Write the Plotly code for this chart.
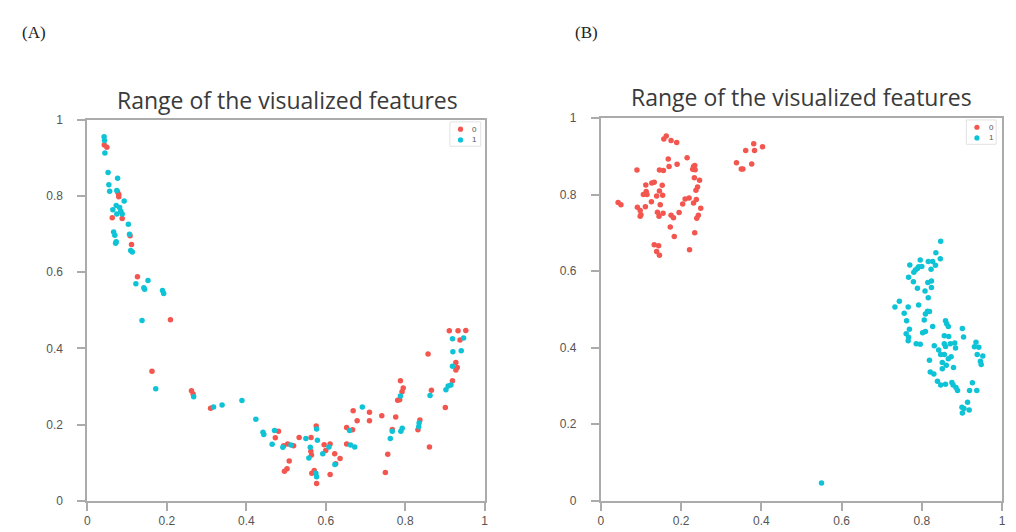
import plotly.graph_objects as go

# ---------------- data ----------------
# Panel A, class 0 (red)
a0_x = [0.0425, 0.049, 0.076, 0.079, 0.079, 0.0625, 0.0875, 0.1075, 0.111, 0.126, 0.209,
        0.1625, 0.262, 0.266, 0.31,
        0.481, 0.473, 0.494, 0.504, 0.519, 0.508, 0.5025, 0.496, 0.533, 0.563, 0.5625, 0.564,
        0.565, 0.571, 0.576, 0.577, 0.596, 0.6, 0.611, 0.611, 0.6225, 0.625, 0.636, 0.6525,
        0.6525, 0.669, 0.6675, 0.679, 0.71, 0.71, 0.741, 0.776, 0.75, 0.756, 0.7675, 0.781,
        0.786, 0.792, 0.795, 0.788, 0.837, 0.832, 0.8575, 0.866, 0.861, 0.901, 0.919, 0.911,
        0.933, 0.9525, 0.938, 0.9275, 0.931, 0.9275]
a0_y = [0.934, 0.928, 0.811, 0.804, 0.798, 0.743, 0.741, 0.696, 0.673, 0.588, 0.475,
        0.340, 0.289, 0.280, 0.243,
        0.182, 0.165, 0.144, 0.149, 0.144, 0.104, 0.084, 0.077, 0.166, 0.166, 0.130, 0.120,
        0.072, 0.079, 0.196, 0.045, 0.147, 0.132, 0.149, 0.069, 0.123, 0.097, 0.111, 0.192,
        0.149, 0.236, 0.186, 0.210, 0.232, 0.210, 0.223, 0.220, 0.074, 0.122, 0.187, 0.264,
        0.265, 0.286, 0.296, 0.315, 0.212, 0.186, 0.385, 0.290, 0.141, 0.245, 0.315, 0.446,
        0.446, 0.447, 0.422, 0.363, 0.350, 0.343]

# Panel A, class 1 (cyan)
a1_x = [0.042, 0.043, 0.044, 0.052, 0.054, 0.056, 0.076, 0.074, 0.0925, 0.064, 0.0725, 0.081,
        0.084, 0.0875, 0.074, 0.103, 0.106, 0.066, 0.069, 0.0725, 0.071, 0.109, 0.113, 0.122,
        0.142, 0.144, 0.1525, 0.189, 0.192, 0.1375,
        0.172, 0.2675, 0.3175, 0.339,
        0.389, 0.424, 0.442, 0.444, 0.465, 0.471, 0.492, 0.5125, 0.55, 0.561, 0.5575, 0.579,
        0.577, 0.5925, 0.608, 0.623, 0.575, 0.577, 0.66, 0.6625, 0.673, 0.692, 0.7625, 0.7675,
        0.789, 0.7925, 0.788, 0.834, 0.835, 0.8625, 0.9025, 0.908, 0.915, 0.919, 0.92, 0.941,
        0.919, 0.947]
a1_y = [0.956, 0.946, 0.913, 0.862, 0.830, 0.813, 0.847, 0.815, 0.787, 0.764, 0.775, 0.770,
        0.760, 0.753, 0.753, 0.726, 0.700, 0.706, 0.697, 0.680, 0.676, 0.657, 0.653, 0.570,
        0.559, 0.555, 0.578, 0.552, 0.544, 0.473,
        0.294, 0.273, 0.246, 0.251,
        0.263, 0.214, 0.180, 0.174, 0.148, 0.184, 0.140, 0.146, 0.163, 0.140, 0.112, 0.159,
        0.188, 0.123, 0.141, 0.095, 0.072, 0.063, 0.184, 0.146, 0.141, 0.246, 0.163, 0.182,
        0.182, 0.190, 0.275, 0.194, 0.204, 0.276, 0.291, 0.301, 0.304, 0.353, 0.391, 0.394,
        0.425, 0.427]

# Panel B, class 0 (red)
b0_x = [0.043, 0.050, 0.090, 0.091, 0.098, 0.098, 0.100, 0.106, 0.112, 0.113, 0.115, 0.111,
        0.127, 0.133, 0.126, 0.139, 0.146, 0.156, 0.146, 0.153, 0.154, 0.148, 0.141, 0.145,
        0.155, 0.133, 0.144, 0.139, 0.146, 0.157, 0.163, 0.175, 0.189, 0.168, 0.170, 0.190,
        0.175, 0.181, 0.173, 0.183, 0.195, 0.204, 0.210, 0.220, 0.215, 0.231, 0.234, 0.229,
        0.235, 0.233, 0.246, 0.241, 0.237, 0.231, 0.238, 0.249, 0.243, 0.239, 0.234, 0.221,
        0.338, 0.350, 0.354, 0.361, 0.381, 0.383, 0.376, 0.403]
b0_y = [0.779, 0.773, 0.864, 0.767, 0.758, 0.743, 0.747, 0.800, 0.825, 0.808, 0.800, 0.768,
        0.830, 0.832, 0.781, 0.796, 0.864, 0.863, 0.809, 0.824, 0.798, 0.773, 0.754, 0.743,
        0.751, 0.669, 0.666, 0.651, 0.641, 0.945, 0.953, 0.941, 0.936, 0.893, 0.873, 0.879,
        0.746, 0.739, 0.715, 0.690, 0.753, 0.775, 0.788, 0.791, 0.896, 0.873, 0.876, 0.866,
        0.865, 0.844, 0.837, 0.820, 0.811, 0.778, 0.787, 0.764, 0.746, 0.738, 0.700, 0.656,
        0.883, 0.867, 0.867, 0.915, 0.933, 0.915, 0.880, 0.925]

# Panel B, class 1 (cyan)
b1_x = [0.847, 0.835, 0.846, 0.796, 0.816, 0.827, 0.834, 0.770, 0.792, 0.800, 0.789, 0.784,
        0.780, 0.823, 0.767, 0.779, 0.815, 0.824, 0.789, 0.824, 0.808, 0.816, 0.744, 0.733,
        0.766, 0.792, 0.756, 0.814, 0.819, 0.809, 0.806, 0.762, 0.859, 0.862, 0.866, 0.827,
        0.901, 0.769, 0.761, 0.802, 0.809, 0.767, 0.766, 0.904, 0.856, 0.867, 0.786, 0.796,
        0.831, 0.856, 0.859, 0.871, 0.882, 0.884, 0.842, 0.935, 0.931, 0.942, 0.847, 0.856,
        0.938, 0.952, 0.873, 0.866, 0.851, 0.946, 0.948, 0.819, 0.861, 0.851, 0.879, 0.821,
        0.830, 0.839, 0.847, 0.859, 0.875, 0.878, 0.885, 0.889, 0.926, 0.919, 0.937, 0.914,
        0.900, 0.905, 0.918, 0.901, 0.550]
b1_y = [0.678, 0.648, 0.632, 0.629, 0.625, 0.625, 0.615, 0.616, 0.611, 0.612, 0.607, 0.603,
        0.597, 0.605, 0.584, 0.572, 0.570, 0.574, 0.555, 0.557, 0.548, 0.530, 0.521, 0.506,
        0.506, 0.511, 0.490, 0.495, 0.494, 0.488, 0.472, 0.470, 0.470, 0.462, 0.455, 0.455,
        0.450, 0.448, 0.436, 0.439, 0.442, 0.427, 0.418, 0.428, 0.431, 0.429, 0.410, 0.409,
        0.405, 0.410, 0.403, 0.410, 0.412, 0.399, 0.394, 0.414, 0.402, 0.401, 0.382, 0.382,
        0.382, 0.378, 0.376, 0.371, 0.361, 0.364, 0.356, 0.367, 0.354, 0.345, 0.348, 0.336,
        0.331, 0.312, 0.302, 0.304, 0.309, 0.302, 0.296, 0.288, 0.308, 0.288, 0.288, 0.257,
        0.244, 0.241, 0.237, 0.229, 0.046]

class_names = ["0", "1"]
panel_labels = ["(A)", "(B)"]
title_text = "Range of the visualized features"
tick_vals = [0, 0.2, 0.4, 0.6, 0.8, 1]
tick_text = ["0", "0.2", "0.4", "0.6", "0.8", "1"]

RED = "#F3564F"
CYAN = "#0EC3D6"
COLORS = [RED, CYAN]
W, H = 1016, 532

fig = go.Figure()

def add(xs, ys, name, color, xa, ya):
    fig.add_trace(go.Scatter(
        x=xs, y=ys, mode="markers", name=name,
        marker=dict(color=color, size=5.5, line=dict(width=0)),
        xaxis=xa, yaxis=ya, showlegend=False,
    ))

add(a0_x, a0_y, class_names[0], RED, "x", "y")
add(a1_x, a1_y, class_names[1], CYAN, "x", "y")
add(b0_x, b0_y, class_names[0], RED, "x2", "y2")
add(b1_x, b1_y, class_names[1], CYAN, "x2", "y2")

axis_common = dict(
    range=[0, 1], showgrid=False, zeroline=False,
    showline=True, linecolor="#ABABAB", linewidth=2, mirror=True,
    ticks="outside", ticklen=8, tickwidth=1.5, tickcolor="#ABABAB",
    tickvals=tick_vals, ticktext=tick_text,
    tickfont=dict(family="Liberation Sans", size=12, color="#555555"),
    fixedrange=True,
)

fig.update_layout(
    width=W, height=H,
    margin=dict(l=0, r=0, t=0, b=0),
    paper_bgcolor="white", plot_bgcolor="white",
    xaxis=dict(domain=[85 / W, 485 / W], anchor="y", **axis_common),
    yaxis=dict(domain=[1 - 507 / H, 1 - 116 / H], anchor="x", ticklabelstandoff=12, **axis_common),
    xaxis2=dict(domain=[602 / W, 1006 / W], anchor="y2", **axis_common),
    yaxis2=dict(domain=[1 - 507 / H, 1 - 114 / H], anchor="x2", ticklabelstandoff=12, **axis_common),
    showlegend=False,
)

annotations = [
    dict(text=panel_labels[0], x=17 / W, y=1 - 26 / H, xanchor="left", yanchor="middle",
         font=dict(family="Liberation Serif", size=17, color="#222222")),
    dict(text=panel_labels[1], x=574 / W, y=1 - 26 / H, xanchor="left", yanchor="middle",
         font=dict(family="Liberation Serif", size=17, color="#222222")),
    dict(text=title_text, x=286 / W, y=1 - 95 / H, xanchor="center", yanchor="middle",
         font=dict(family="Open Sans", size=23, color="#3A3A3A")),
    dict(text=title_text, x=804 / W, y=1 - 92 / H, xanchor="center", yanchor="middle",
         font=dict(family="Open Sans", size=23, color="#3A3A3A")),
]

# small in-plot legends (box, dots, labels) for each panel, placed in pixels
shapes = []
legend_boxes = [(450, 481, 118, 143), (970, 1000, 116, 141)]
for (bx0, bx1, by0, by1) in legend_boxes:
    shapes.append(dict(type="rect", xref="paper", yref="paper",
                       x0=bx0 / W, x1=bx1 / W, y0=1 - by1 / H, y1=1 - by0 / H,
                       line=dict(color="#E2E2E2", width=1), fillcolor="white", layer="above"))
    for i, name in enumerate(class_names):
        cy = by0 + 7.5 + i * 11
        cx = bx0 + 10.7
        shapes.append(dict(type="circle", xref="paper", yref="paper",
                           xsizemode="pixel", ysizemode="pixel",
                           xanchor=cx / W, yanchor=1 - cy / H,
                           x0=-2.6, x1=2.6, y0=-2.6, y1=2.6,
                           fillcolor=COLORS[i], line=dict(width=0), layer="above"))
        annotations.append(dict(text=name, x=(bx0 + 25) / W, y=1 - cy / H,
                                xanchor="center", yanchor="middle",
                                font=dict(family="Liberation Sans", size=8, color="#555555")))

for a in annotations:
    a.update(xref="paper", yref="paper", showarrow=False)
fig.update_layout(annotations=annotations, shapes=shapes)

fig.write_html("out.html")
